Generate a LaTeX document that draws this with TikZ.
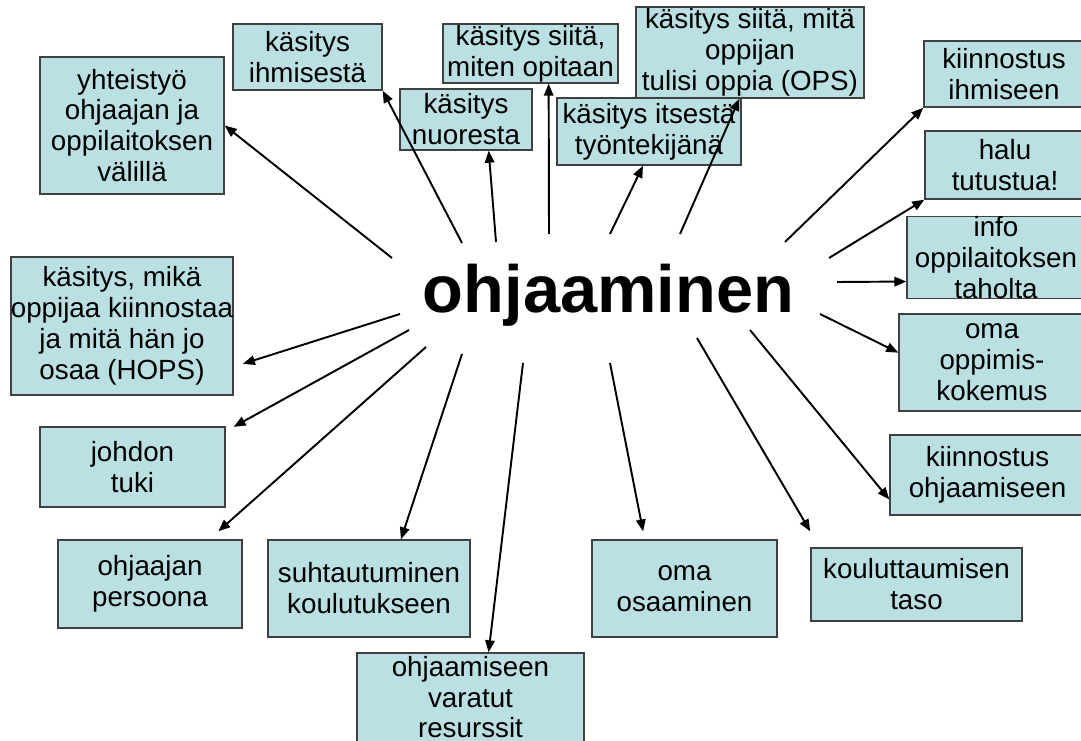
\documentclass[tikz,border=0pt]{standalone}
\usepackage{fontspec}
\setmainfont{Liberation Sans}
\usetikzlibrary{arrows.meta}
\definecolor{boxfill}{RGB}{187,224,227}

\begin{document}
\begin{tikzpicture}[
  box/.style={draw=black!75, line width=0.8pt, fill=boxfill, align=center, inner sep=0pt, font=\fontsize{15.8}{17.6}\selectfont},
  arr/.style={-{Triangle[length=0.24cm,width=0.19cm]}, line width=1.1pt}
]

\useasboundingbox (0,0) rectangle (21.62,14.8);

% middle word
\node[anchor=base, font=\fontsize{38}{40}\selectfont\bfseries] (ohj) at (12.17,8.54) {ohjaaminen};

% upper boxes
\node[box, minimum width=3.68cm, minimum height=2.74cm] (yht) at (2.64,12.29) {yhteistyö\\ohjaajan ja\\oppilaitoksen\\välillä};
\node[box, minimum width=2.98cm, minimum height=1.32cm] (ihm) at (6.15,13.66) {käsitys\\ihmisestä};
\node[box, minimum width=2.64cm, minimum height=1.22cm] (nuo) at (9.32,12.41) {käsitys\\nuoresta};
\node[box, minimum width=3.50cm, minimum height=1.18cm] (opi) at (10.61,13.73) {käsitys siitä,\\miten opitaan};
\node[box, minimum width=4.56cm, minimum height=1.82cm] (ops) at (15.00,13.75) {käsitys siitä, mitä\\oppijan\\tulisi oppia (OPS)};
\node[box, minimum width=3.68cm, minimum height=1.34cm] (its) at (12.98,12.17) {käsitys itsestä\\työntekijänä};

% right boxes
\node[box, minimum width=3.20cm, minimum height=1.32cm] (kii) at (20.08,13.32) {kiinnostus\\ihmiseen};
\node[box, minimum width=3.20cm, minimum height=1.36cm] (halu) at (20.10,11.50) {halu\\tutustua!};
\node[box, minimum width=3.56cm, minimum height=1.62cm] (info) at (19.92,9.65) {info\\oppilaitoksen\\taholta};
\node[box, minimum width=3.72cm, minimum height=1.94cm] (kok) at (19.84,7.55) {oma\\oppimis-\\kokemus};
\node[box, minimum width=3.90cm, minimum height=1.60cm] (kio) at (19.75,5.30) {kiinnostus\\ohjaamiseen};

% left boxes
\node[box, minimum width=4.44cm, minimum height=2.76cm] (hops) at (2.44,8.28) {käsitys, mikä\\oppijaa kiinnostaa\\ja mitä hän jo\\osaa (HOPS)};
\node[box, minimum width=3.70cm, minimum height=1.60cm] (joh) at (2.65,5.46) {johdon\\tuki};

% lower boxes
\node[box, minimum width=3.68cm, minimum height=1.76cm] (per) at (3.00,3.12) {ohjaajan\\persoona};
\node[box, minimum width=4.04cm, minimum height=1.94cm] (suh) at (7.38,3.03) {suhtautuminen\\koulutukseen};
\node[box, minimum width=4.54cm, minimum height=1.96cm] (res) at (9.41,0.76) {ohjaamiseen\\varatut\\resurssit\rule[-0.2cm]{0pt}{0pt}};
\node[box, minimum width=3.70cm, minimum height=1.94cm] (osa) at (13.69,3.03) {oma\\osaaminen};
\node[box, minimum width=4.22cm, minimum height=1.46cm] (kou) at (18.33,3.11) {kouluttaumisen\\taso};

% where the arrows start, round the middle word
\coordinate (s1) at (7.84,9.64);
\coordinate (s2) at (9.24,9.94);
\coordinate (s3) at (9.92,9.96);
\coordinate (s4) at (10.98,10.12);
\coordinate (s5) at (12.20,10.12);
\coordinate (s6) at (13.60,10.12);
\coordinate (s7) at (15.70,9.96);
\coordinate (s8) at (16.58,9.64);
\coordinate (s9) at (16.74,9.16);
\coordinate (s10) at (16.40,8.52);
\coordinate (s11) at (15.00,8.20);
\coordinate (s12) at (13.94,8.04);
\coordinate (s13) at (12.20,7.54);
\coordinate (s14) at (10.46,7.54);
\coordinate (s15) at (9.24,7.72);
\coordinate (s16) at (8.52,7.86);
\coordinate (s17) at (8.18,8.20);
\coordinate (s18) at (8.00,8.52);

% arrows up
\draw[arr] (s1) -- (yht.east);
\draw[arr] (s2) -- (ihm.south east);
\draw[arr] (s3) -- (nuo.-54);
\draw[arr] (s4) -- (opi.-59);
\draw[arr] (s5) -- (its.-100);
\draw[arr] (s6) -- (ops.-103);

% arrows right
\draw[arr] (s7) -- (kii.south west);
\draw[arr] (s8) -- (halu.south west);
\draw[arr] (s9) -- (info.-165);
\draw[arr] (s10) -- (kok.174);
\draw[arr] (s11) -- (kio.-166);

% arrows down
\draw[arr, shorten >=0.37cm] (s12) -- (kou.159);
\draw[arr, shorten >=0.16cm] (s13) -- (osa.129);
\draw[arr] (s14) -- (res.70);
\draw[arr] (s15) -- (suh.57);
\draw[arr, shorten >=0.24cm] (s16) -- (per.37);

% arrows left
\draw[arr, shorten >=0.18cm] (s17) -- (joh.21);
\draw[arr, shorten >=0.19cm] (s18) -- (hops.-20);

\end{tikzpicture}
\end{document}
